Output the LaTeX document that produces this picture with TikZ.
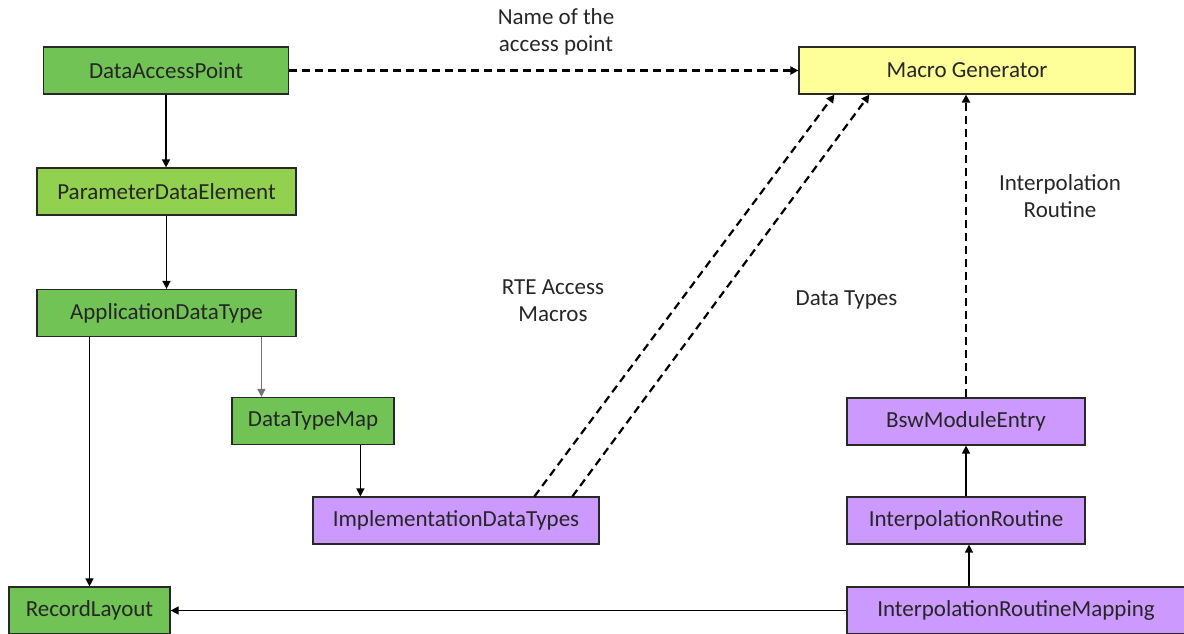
\documentclass[tikz,border=0pt]{standalone}
\usepackage{fontspec}
\setmainfont{Carlito}
\usetikzlibrary{arrows.meta}
\definecolor{boxgreen}{RGB}{114,195,86}
\definecolor{lightgreen}{RGB}{146,208,80}
\definecolor{boxpurple}{RGB}{204,153,255}
\definecolor{boxyellow}{RGB}{255,255,153}
\definecolor{edge}{RGB}{40,40,40}
\begin{document}
\begin{tikzpicture}[
        x=0.5pt, y=-0.5pt,
        font=\fontsize{11.5}{13.5}\selectfont,
        block/.style={draw=edge, line width=0.6pt, minimum height=23.5pt, inner sep=0pt, text=black!85},
        green/.style={block, fill=boxgreen},
        purple/.style={block, fill=boxpurple},
        label/.style={align=center, text=black!85},
        arrow/.style={-{Triangle[width=4pt,length=4pt]}, line width=0.7pt},
        dasharrow/.style={arrow, line width=1.1pt, dash pattern=on 4pt off 2.5pt}
    ]
        \useasboundingbox (0,0) rectangle (1184,633);
        % Left column of data elements
        \node[green, minimum width=122.5pt] (dap) at (166,70.5) {DataAccessPoint};
        \node[block, fill=lightgreen, minimum width=129.5pt] (pde) at (166.5,191.5) {ParameterDataElement};
        \node[green, minimum width=129.5pt] (adt) at (166.5,313) {ApplicationDataType};
        \node[green, minimum width=81pt] (dtm) at (313,421) {DataTypeMap};
        \node[purple, minimum width=143pt] (idt) at (456,520.5) {ImplementationDataTypes};
        \node[green, minimum width=80.5pt] (rl) at (89.5,610.5) {RecordLayout};
        % Generator and the BSW side
        \node[block, fill=boxyellow, minimum width=168pt] (mg) at (967,70.5) {Macro Generator};
        \node[purple, minimum width=119pt] (bme) at (966,421.5) {BswModuleEntry};
        \node[purple, minimum width=119pt] (ir) at (966,520.5) {InterpolationRoutine};
        \node[purple, minimum width=169pt] (irm) at (1016,610.5) {InterpolationRoutineMapping};
        % Labels of the dashed links
        \node[label] (lname) at (556,31.5) {Name of the\\access point};
        \node[label] (lrte) at (553,300.5) {RTE Access\\Macros};
        \node[label] (ltypes) at (846.5,300) {Data Types};
        \node[label] (linterp) at (1060,196.5) {Interpolation\\Routine};
        % Solid links
        \draw[arrow] (dap.south) -- (dap.south |- pde.north);
        \draw[arrow] (pde.south) -- (pde.south |- adt.north);
        \draw[arrow] (rl |- adt.south) -- (rl);
        \draw[arrow, draw=black!55] ([xshift=15pt]dtm.north west |- adt.south) -- ([xshift=15pt]dtm.north west);
        \draw[arrow] ([xshift=24pt]idt.north west |- dtm.south) -- ([xshift=24pt]idt.north west);
        \draw[arrow] (irm) -- (rl);
        \draw[arrow] ([xshift=1.5pt]ir.south |- irm.north) -- ([xshift=1.5pt]ir.south);
        \draw[arrow] (ir) -- (bme);
        % Dashed links to the generator
        \draw[dasharrow] (dap) -- (mg);
        \draw[dasharrow] ([xshift=111pt]idt.north west) -- ([xshift=18pt]mg.south west);
        \draw[dasharrow] ([xshift=130pt]idt.north west) -- ([xshift=35.5pt]mg.south west);
        \draw[dasharrow] (bme.north) -- (bme.north |- mg.south);
    \end{tikzpicture}
\end{document}
